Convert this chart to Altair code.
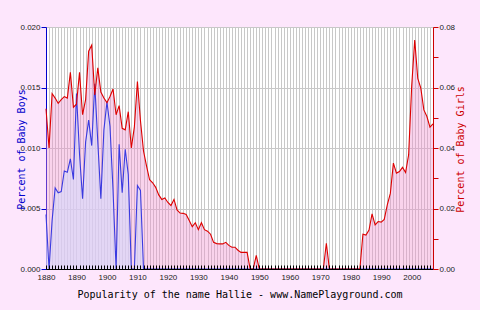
import altair as alt
import pandas as pd

years = list(range(1880, 2008))

boys = [
    0.0045, 0.0, 0.0040, 0.0067, 0.0063, 0.0064, 0.0081, 0.0080, 0.0091, 0.0074,   # 1880s
    0.0145, 0.0095, 0.0058, 0.0105, 0.0123, 0.0102, 0.0153, 0.0105, 0.0058, 0.0115,  # 1890s
    0.0138, 0.0118, 0.0065, 0.0, 0.0103, 0.0063, 0.0099, 0.0078, 0.0, 0.0,          # 1900s
    0.0069, 0.0065, 0.0, 0.0, 0.0, 0.0, 0.0, 0.0, 0.0, 0.0,                          # 1910s
    0.0, 0.0, 0.0, 0.0, 0.0, 0.0, 0.0, 0.0, 0.0, 0.0,                                # 1920s
    0.0, 0.0, 0.0, 0.0, 0.0, 0.0, 0.0, 0.0, 0.0, 0.0,                                # 1930s
    0.0, 0.0, 0.0, 0.0, 0.0, 0.0, 0.0, 0.0, 0.0, 0.0,                                # 1940s
    0.0, 0.0, 0.0, 0.0, 0.0, 0.0, 0.0, 0.0, 0.0, 0.0,                                # 1950s
    0.0, 0.0, 0.0, 0.0, 0.0, 0.0, 0.0, 0.0, 0.0, 0.0,                                # 1960s
    0.0, 0.0, 0.0, 0.0, 0.0, 0.0, 0.0, 0.0, 0.0, 0.0,                                # 1970s
    0.0, 0.0, 0.0, 0.0, 0.0, 0.0, 0.0, 0.0, 0.0, 0.0,                                # 1980s
    0.0, 0.0, 0.0, 0.0, 0.0, 0.0, 0.0, 0.0, 0.0, 0.0,                                # 1990s
    0.0, 0.0, 0.0, 0.0, 0.0, 0.0, 0.0, 0.0,                                          # 2000s
]

girls = [
    0.053, 0.040, 0.058, 0.0565, 0.0548, 0.056, 0.057, 0.0565, 0.065, 0.0535,      # 1880s
    0.0545, 0.065, 0.051, 0.056, 0.072, 0.074, 0.0575, 0.0665, 0.0585, 0.0565,     # 1890s
    0.055, 0.057, 0.0595, 0.051, 0.054, 0.0465, 0.046, 0.052, 0.040, 0.047,        # 1900s
    0.062, 0.049, 0.039, 0.034, 0.0295, 0.0285, 0.027, 0.0245, 0.023, 0.0235,      # 1910s
    0.022, 0.021, 0.023, 0.0195, 0.0185, 0.0184, 0.018, 0.016, 0.014, 0.0153,      # 1920s
    0.013, 0.0153, 0.013, 0.0125, 0.0115, 0.0088, 0.0084, 0.0083, 0.0083, 0.0088,  # 1930s
    0.0078, 0.0072, 0.0072, 0.0062, 0.0055, 0.0055, 0.0055, 0.0, 0.0, 0.0045,     # 1940s
    0.0, 0.0, 0.0, 0.0, 0.0, 0.0, 0.0, 0.0, 0.0, 0.0,                              # 1950s
    0.0, 0.0, 0.0, 0.0, 0.0, 0.0, 0.0, 0.0, 0.0, 0.0,                              # 1960s
    0.0, 0.0, 0.0085, 0.0, 0.0, 0.0, 0.0, 0.0, 0.0, 0.0,                           # 1970s
    0.0, 0.0, 0.0, 0.0, 0.0115, 0.0112, 0.0129, 0.0182, 0.0146, 0.0157,            # 1980s
    0.0155, 0.0164, 0.0212, 0.025, 0.035, 0.0317, 0.0322, 0.0336, 0.0319, 0.0377,  # 1990s
    0.0603, 0.0757, 0.063, 0.0598, 0.0526, 0.0504, 0.0469, 0.048,                  # 2000s
]

boys_ticks = [0.0, 0.005, 0.01, 0.015, 0.02]
girls_ticks = [0.0, 0.01, 0.02, 0.03, 0.04, 0.05, 0.06, 0.07, 0.08]

W, H = 387, 242

df = pd.DataFrame({"year": years, "boys": boys, "girls": girls})

x_scale = alt.Scale(domain=[1880, 2007], nice=False, zero=False)
yb_scale = alt.Scale(domain=[0, 0.02], nice=False, zero=True)
yg_scale = alt.Scale(domain=[0, 0.08], nice=False, zero=True)

LABEL_FONT = "Liberation Sans"
TITLE_FONT = "DejaVu Sans Mono"

x_bottom = alt.Axis(
    orient="bottom",
    values=years,
    labelExpr="datum.value % 10 == 0 ? datum.value : ''",
    labelFlush=False,
    labelOverlap=False,
    labelFont=LABEL_FONT,
    labelFontSize=8,
    labelColor="#222222",
    labelPadding=4,
    ticks=False,
    domainColor="#000000",
    grid=False,
    zindex=1,
    title="Popularity of the name Hallie - www.NamePlayground.com",
    titleFont=TITLE_FONT,
    titleFontSize=10,
    titleFontWeight="normal",
    titleColor="#000000",
    titleY=28,
    titleBaseline="alphabetic",
)

x_grid = alt.Axis(
    orient="bottom",
    values=years,
    labels=False,
    ticks=False,
    domain=False,
    grid=True,
    gridColor="#c8c8c8",
    gridWidth=1,
    zindex=0,
    title="",
)

x_ticks_inside = alt.Axis(
    orient="top",
    offset=-H,
    values=years,
    labels=False,
    domain=False,
    grid=False,
    ticks=True,
    tickColor="#000000",
    tickSize=4,
    zindex=1,
    title="",
)

y_left = alt.Axis(
    orient="left",
    values=boys_ticks,
    format=".3f",
    grid=True,
    gridColor="#c8c8c8",
    domainColor="#0000cc",
    tickColor="#0000cc",
    tickSize=5,
    labelFont=LABEL_FONT,
    labelFontSize=8,
    labelColor="#222222",
    labelPadding=1,
    title="Percent of Baby Boys",
    titleColor="#0000cc",
    titleFont=TITLE_FONT,
    titleFontSize=10,
    titleFontWeight="normal",
    titleX=-25,
    titleY=122,
    titleAngle=270,
    titleAlign="center",
    titleBaseline="middle",
)

y_right = alt.Axis(
    orient="right",
    values=girls_ticks,
    labelExpr="round(datum.value * 100) % 2 == 0 ? format(datum.value, '.2f') : ''",
    grid=False,
    domainColor="#cc0000",
    tickColor="#cc0000",
    tickSize=5,
    labelFont=LABEL_FONT,
    labelFontSize=8,
    labelColor="#222222",
    labelPadding=1,
    zindex=1,
    title="Percent of Baby Girls",
    titleColor="#cc0000",
    titleFont=TITLE_FONT,
    titleFontSize=10,
    titleFontWeight="normal",
    titleX=27,
    titleY=122,
    titleAngle=270,
    titleAlign="center",
    titleBaseline="middle",
)

base = alt.Chart(df)

area_g = base.mark_area(color="#f090d0", opacity=0.4, interpolate="linear").encode(
    x=alt.X("year:Q", scale=x_scale, axis=x_bottom),
    y=alt.Y("girls:Q", scale=yg_scale, axis=None),
)

area_b = base.mark_area(color="#d7d7fa", opacity=0.65, interpolate="linear").encode(
    x=alt.X("year:Q", scale=x_scale, axis=x_grid),
    y=alt.Y("boys:Q", scale=yb_scale, axis=y_left),
)

line_b = base.mark_line(color="#3a3ae0", strokeWidth=1.1, interpolate="linear").encode(
    x=alt.X("year:Q", scale=x_scale, axis=x_ticks_inside),
    y=alt.Y("boys:Q", scale=yb_scale, axis=None),
)

line_g = base.mark_line(color="#dd0000", strokeWidth=1.1, interpolate="linear").encode(
    x=alt.X("year:Q", scale=x_scale, axis=None),
    y=alt.Y("girls:Q", scale=yg_scale, axis=y_right),
)

chart = (
    alt.layer(area_g, area_b, line_b, line_g)
    .resolve_scale(y="independent")
    .resolve_axis(x="independent", y="independent")
    .properties(
        width=W,
        height=H,
        padding={"left": 46, "top": 27, "right": 47, "bottom": 41},
        autosize=alt.AutoSizeParams(type="none"),
        background="#fde6fc",
    )
    .configure_view(stroke="#c8c8c8", fill="#ffffff")
)

chart.save("out.html", embed_options={"renderer": "svg", "actions": False})
